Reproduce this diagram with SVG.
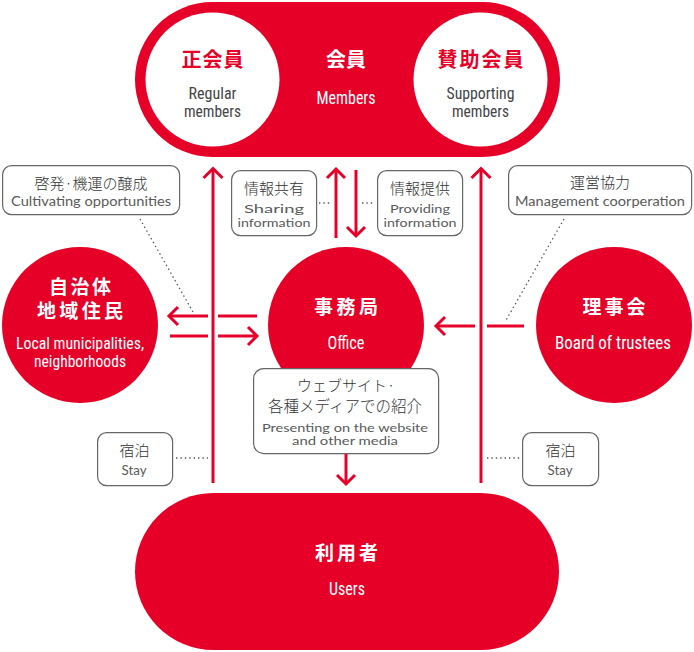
<svg xmlns="http://www.w3.org/2000/svg" width="694" height="652" viewBox="0 0 694 652">
<style>
.red{fill:#e60028}
.wh{fill:#ffffff}
.box{fill:#ffffff;stroke:#666;stroke-width:1.2}
.ttl{font-family:"Noto Sans CJK JP",sans-serif;font-weight:bold;font-size:19px;text-anchor:middle}
.tw{fill:#ffffff}
.tr{fill:#e60028}
.cond{font-family:"Roboto Condensed",Roboto,sans-serif;font-size:17px;text-anchor:middle}
.cg{fill:#444}
.jp{font-family:"Noto Sans CJK JP",sans-serif;font-weight:300;font-size:15px;fill:#333;text-anchor:middle}
.en{font-family:Lato,"Open Sans",sans-serif;font-weight:400;font-size:12px;fill:#5a5a5a;text-anchor:middle}
.ln{stroke:#e60028;stroke-width:3;fill:none}
.dot{stroke:#555;stroke-width:1.3;stroke-dasharray:1.4 3;fill:none}
</style>

<g id="members">
<rect class="red" x="135" y="2" width="425" height="155" rx="77.5"/>
<text class="ttl tw" x="346" y="67" style="font-size:20px" textLength="40" lengthAdjust="spacing">会員</text>
<text class="cond tw" x="346" y="104" textLength="59" lengthAdjust="spacingAndGlyphs" style="font-size:18px">Members</text>
</g>
<g id="regular-members">
<circle class="wh" cx="212.5" cy="79.5" r="67"/>
<text class="ttl tr" x="212.5" y="67" style="font-size:20px" textLength="62" lengthAdjust="spacing">正会員</text>
<text class="cond cg" x="212.5" y="99" textLength="48" lengthAdjust="spacingAndGlyphs">Regular</text>
<text class="cond cg" x="212.5" y="117" textLength="57" lengthAdjust="spacingAndGlyphs">members</text>
</g>
<g id="supporting-members">
<circle class="wh" cx="480.5" cy="79.5" r="67"/>
<text class="ttl tr" x="480.5" y="67" style="font-size:20px" textLength="86" lengthAdjust="spacing">賛助会員</text>
<text class="cond cg" x="480.5" y="99" textLength="68" lengthAdjust="spacingAndGlyphs">Supporting</text>
<text class="cond cg" x="480.5" y="117" textLength="57" lengthAdjust="spacingAndGlyphs">members</text>
</g>

<g id="local">
<circle class="red" cx="80" cy="325" r="78"/>
<text class="ttl tw" x="80" y="294" textLength="62" lengthAdjust="spacing">自治体</text>
<text class="ttl tw" x="80" y="318" textLength="86" lengthAdjust="spacing">地域住民</text>
<text class="cond tw" x="80" y="349" textLength="128" lengthAdjust="spacingAndGlyphs">Local municipalities,</text>
<text class="cond tw" x="80" y="367" textLength="92" lengthAdjust="spacingAndGlyphs">neighborhoods</text>
</g>
<g id="office">
<circle class="red" cx="346" cy="325" r="78"/>
<text class="ttl tw" x="346" y="314" textLength="64" lengthAdjust="spacing">事務局</text>
<text class="cond tw" x="346" y="349" textLength="37" lengthAdjust="spacingAndGlyphs" style="font-size:18px">Office</text>
</g>
<g id="board">
<circle class="red" cx="614" cy="325" r="78"/>
<text class="ttl tw" x="614" y="314" textLength="63" lengthAdjust="spacing">理事会</text>
<text class="cond tw" x="613" y="349" textLength="116" lengthAdjust="spacingAndGlyphs" style="font-size:18px">Board of trustees</text>
</g>
<g id="users">
<rect class="red" x="135" y="493" width="424" height="157" rx="78.5"/>
<text class="ttl tw" x="346.5" y="560" textLength="63" lengthAdjust="spacing">利用者</text>
<text class="cond tw" x="347" y="595" textLength="36" lengthAdjust="spacingAndGlyphs" style="font-size:18px">Users</text>
</g>

<g id="label-cultivating">
<rect class="box" x="2.6" y="165.6" width="177" height="49" rx="9"/>
<text class="jp" x="91" y="188.5">啓発·機運の醸成</text>
<text class="en" x="91" y="206" textLength="160" lengthAdjust="spacingAndGlyphs" style="font-size:13.5px">Cultivating opportunities</text>
</g>
<g id="label-sharing">
<rect class="box" x="231.6" y="170.6" width="85" height="65" rx="9"/>
<text class="jp" x="274" y="194">情報共有</text>
<text class="en" x="274" y="213" textLength="60" lengthAdjust="spacingAndGlyphs">Sharing</text>
<text class="en" x="274" y="227" textLength="73" lengthAdjust="spacingAndGlyphs">information</text>
</g>
<g id="label-providing">
<rect class="box" x="377.6" y="170.6" width="85" height="65" rx="9"/>
<text class="jp" x="420" y="194">情報提供</text>
<text class="en" x="420" y="213" textLength="60" lengthAdjust="spacingAndGlyphs">Providing</text>
<text class="en" x="420" y="227" textLength="73" lengthAdjust="spacingAndGlyphs">information</text>
</g>
<g id="label-management">
<rect class="box" x="508.6" y="165.6" width="183" height="49" rx="9"/>
<text class="jp" x="600" y="188">運営協力</text>
<text class="en" x="600" y="206" textLength="170" lengthAdjust="spacingAndGlyphs" style="font-size:13.5px">Management coorperation</text>
</g>
<g id="label-media">
<rect class="box" x="253.6" y="368.6" width="185" height="85" rx="10"/>
<text class="jp" x="346" y="391">ウェブサイト·</text>
<text class="jp" x="345" y="412" style="font-size:15.5px">各種メディアでの紹介</text>
<text class="en" x="345" y="432" textLength="166" lengthAdjust="spacingAndGlyphs">Presenting on the website</text>
<text class="en" x="345" y="445" textLength="106" lengthAdjust="spacingAndGlyphs">and other media</text>
</g>
<g id="label-stay-left">
<rect class="box" x="97.6" y="432.6" width="75" height="53" rx="9"/>
<text class="jp" x="134.5" y="456">宿泊</text>
<text class="en" x="134" y="475" textLength="25" lengthAdjust="spacingAndGlyphs" style="font-size:13.5px">Stay</text>
</g>
<g id="label-stay-right">
<rect class="box" x="522.6" y="432.6" width="76" height="53" rx="9"/>
<text class="jp" x="560.5" y="456">宿泊</text>
<text class="en" x="560" y="475" textLength="25" lengthAdjust="spacingAndGlyphs" style="font-size:13.5px">Stay</text>
</g>

<g id="connectors">
<line class="ln" x1="213" y1="169" x2="213" y2="483"/>
<polyline class="ln" points="203.5,178 213,168.5 222.5,178"/>
<line class="ln" x1="481" y1="169" x2="481" y2="483"/>
<polyline class="ln" points="471.5,178 481,168.5 490.5,178"/>
<line class="ln" x1="336" y1="169" x2="336" y2="238"/>
<polyline class="ln" points="327,178 336,169 345,178"/>
<line class="ln" x1="356" y1="170" x2="356" y2="235"/>
<polyline class="ln" points="347,227 356,236 365,227"/>
<line class="ln" x1="169" y1="316" x2="208" y2="316"/>
<polyline class="ln" points="178,307 169,316 178,325"/>
<line class="ln" x1="218" y1="316" x2="257" y2="316"/>
<line class="ln" x1="170" y1="336" x2="208" y2="336"/>
<line class="ln" x1="218" y1="336" x2="257" y2="336"/>
<polyline class="ln" points="248,327 257,336 248,345"/>
<line class="ln" x1="436" y1="326" x2="475" y2="326"/>
<polyline class="ln" points="445,317 436,326 445,335"/>
<line class="ln" x1="487" y1="326" x2="524" y2="326"/>
<line class="ln" x1="346" y1="454" x2="346" y2="483"/>
<polyline class="ln" points="337,475 346,484 355,475"/>
<line class="dot" x1="140" y1="219" x2="193" y2="312"/>
<line class="dot" x1="564" y1="219" x2="505" y2="322"/>
<line class="dot" x1="319" y1="203" x2="332" y2="203"/>
<line class="dot" x1="362" y1="203" x2="375" y2="203"/>
<line class="dot" x1="176" y1="458" x2="208" y2="458"/>
<line class="dot" x1="487" y1="458" x2="520" y2="458"/>
</g>
</svg>
